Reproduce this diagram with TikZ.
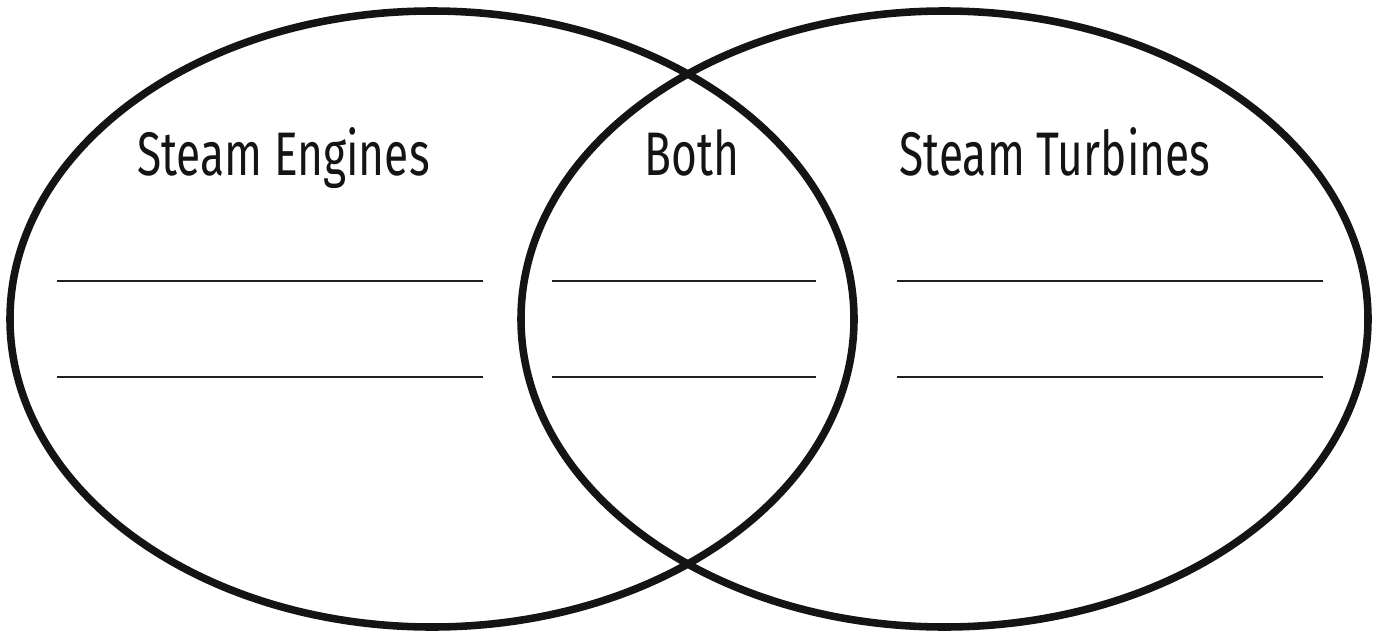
\documentclass[tikz,border=0pt]{standalone}
\usepackage{fontspec}
\setmainfont{Fira Sans}
\usepackage{tikz}

\begin{document}
\begin{tikzpicture}[x=0.02cm, y=-0.02cm,
    setring/.style={line width=4.3pt, draw=black!92},
    blank/.style={line width=1.3pt, draw=black!88},
    heading/.style={anchor=base, inner sep=0pt, xscale=0.72,
      font=\fontsize{35}{40}\selectfont, text=black!92}]
  \useasboundingbox (0,0) rectangle (1379,632);
  % the two sets
  \draw[setring] (432,319) ellipse [x radius=422, y radius=308];
  \draw[setring] (944.5,319) ellipse [x radius=423.5, y radius=308];
  % headings
  \node[heading] (engines)  at (283.5,175) {Steam Engines};
  \node[heading] (both)     at (692,175)   {Both};
  \node[heading] (turbines) at (1055,175)  {Steam Turbines};
  % lines to write on
  \draw[blank] (57,281) -- (483,281);
  \draw[blank] (57,377) -- (483,377);
  \draw[blank] (552,281) -- (816,281);
  \draw[blank] (552,377) -- (816,377);
  \draw[blank] (897,281) -- (1323,281);
  \draw[blank] (897,377) -- (1323,377);
\end{tikzpicture}
\end{document}
